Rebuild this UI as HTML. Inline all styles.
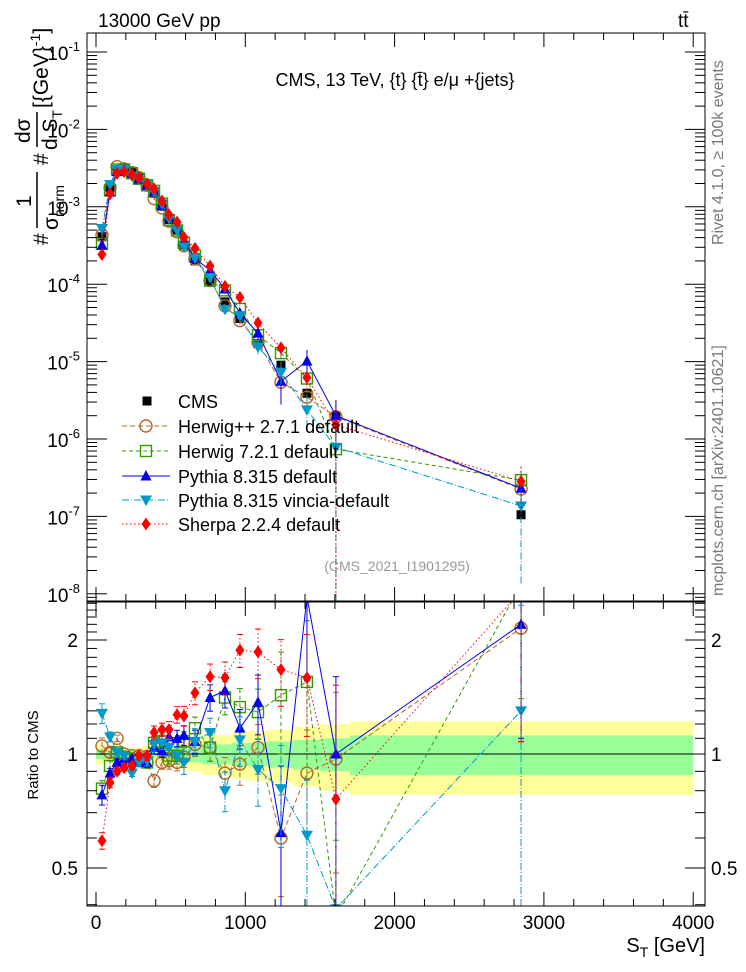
<!DOCTYPE html>
<html><head><meta charset="utf-8"><style>
html,body{margin:0;padding:0;background:#fff;width:746px;height:972px;overflow:hidden;}
svg{display:block;font-family:"Liberation Sans",sans-serif;}
</style></head><body>
<svg id="c" width="746" height="972" viewBox="0 0 746 972" xmlns="http://www.w3.org/2000/svg">
<defs>
<clipPath id="cm"><rect x="87" y="33" width="618" height="568"/></clipPath>
<clipPath id="cr"><rect x="87" y="602" width="618" height="304"/></clipPath>
</defs>
<text x="98" y="27" font-size="19">13000 GeV pp</text>
<text x="678" y="27" font-size="19">tt̄</text>
<text x="395" y="86" font-size="18" text-anchor="middle">CMS, 13 TeV, {t} {t̄} e/μ +{jets}</text>
<text x="397" y="571" font-size="14" fill="#999" text-anchor="middle">(CMS_2021_I1901295)</text>
<text transform="translate(723,245) rotate(-90)" font-size="16" fill="#777">Rivet 4.1.0, ≥ 100k events</text>
<text transform="translate(723,596) rotate(-90)" font-size="16" fill="#777">mcplots.cern.ch [arXiv:2401.10621]</text>
<g transform="rotate(-90)" font-size="21">
<text x="-245" y="48">#</text>
<text x="-207" y="31">1</text>
<line x1="-228" y1="37" x2="-172" y2="37" stroke="#000" stroke-width="1.5"/>
<text x="-230" y="58">σ<tspan font-size="14" dy="6">norm</tspan></text>
<text x="-165" y="48">#</text>
<text x="-143" y="30">dσ</text>
<line x1="-147" y1="37" x2="-112" y2="37" stroke="#000" stroke-width="1.5"/>
<text x="-150" y="57">d S<tspan font-size="14" dy="5">T</tspan></text>
<text x="-108" y="48">[{GeV}<tspan font-size="14" dy="-8">-1</tspan><tspan dy="8">]</tspan></text>
</g>
<text transform="translate(38,755) rotate(-90)" font-size="15" text-anchor="middle">Ratio to CMS</text>
<text x="705" y="952" font-size="20" text-anchor="end">S<tspan font-size="14" dy="5">T</tspan><tspan dy="-5"> [GeV]</tspan></text>
<g id="main" clip-path="url(#cm)"></g>
<g id="ratio" clip-path="url(#cr)"></g>
<g id="axes"></g>
<g id="legend"></g>
</svg>
<script>
const xs=[40,94,141,188,241,288,342,389,442,489,543,589,663,764,864,964,1085,1239,1413,1607,2847];
const cms=[4.1e-4,1.75e-3,3.0e-3,3.1e-3,2.8e-3,2.4e-3,2.0e-3,1.5e-3,1.02e-3,6.8e-4,5e-4,3.2e-4,2.0e-4,1.07e-4,5.9e-5,3.6e-5,1.7e-5,9e-6,3.9e-6,2.0e-6,1.05e-7];
const rHerwigpp=[1.05,1.01,1.10,1.0,0.99,0.99,0.95,0.85,0.95,0.96,0.95,0.98,1.06,1.04,0.89,0.94,1.04,0.6,0.89,0.97,2.15];
const rHerwig7=[0.81,0.93,1.01,0.98,0.97,0.96,0.95,1.07,1.08,0.99,0.99,1.08,1.17,1.04,1.41,1.33,1.29,1.43,1.55,0.37,2.8];
const rPythia=[0.78,0.89,0.95,0.97,0.97,0.95,0.95,1.04,1.02,1.11,1.10,1.12,1.08,1.41,1.47,1.17,1.37,0.62,2.6,1.0,2.2];
const rVincia=[1.28,1.11,1.01,0.99,0.89,0.95,0.96,1.06,1.07,1.04,0.99,0.95,1.08,1.14,0.80,1.09,0.91,0.81,0.61,0.39,1.3];
const rSherpa=[0.59,0.84,0.90,0.92,0.93,0.99,0.99,1.14,1.16,1.16,1.27,1.26,1.45,1.6,1.59,1.88,1.86,1.67,1.59,0.76,2.7];
const eHerwigpp=[0.05,0.03,0.02,0.02,0.02,0.02,0.03,0.04,0.04,0.05,0.05,0.06,0.07,0.08,0.1,0.12,0.15,0.3,0.3,0.5,0.5];
const eHerwig7=[0.05,0.03,0.02,0.02,0.02,0.02,0.03,0.04,0.04,0.05,0.05,0.06,0.07,0.08,0.1,0.12,0.15,0.3,0.45,0.6,0.5];
const ePythia=[0.06,0.03,0.02,0.02,0.02,0.02,0.03,0.04,0.04,0.05,0.05,0.06,0.07,0.08,0.1,0.12,0.18,0.5,0.4,0.6,0.5];
const eVincia=[0.06,0.03,0.02,0.02,0.02,0.02,0.03,0.04,0.04,0.05,0.05,0.07,0.08,0.09,0.12,0.15,0.2,0.3,0.4,1.0,0.9];
const eSherpa=[0.05,0.03,0.02,0.02,0.02,0.02,0.03,0.04,0.04,0.05,0.05,0.06,0.07,0.08,0.1,0.1,0.15,0.2,0.3,1.0,0.6];
const bandEdges=[0,70,115,165,215,265,315,365,415,465,515,565,615,710,810,910,1010,1150,1320,1500,1700,4000];
const statErr=[0.03,0.02,0.02,0.02,0.02,0.02,0.02,0.02,0.03,0.03,0.04,0.05,0.05,0.06,0.06,0.07,0.07,0.08,0.09,0.1,0.12];
const totErr=[0.06,0.04,0.04,0.04,0.04,0.04,0.05,0.05,0.06,0.07,0.08,0.09,0.1,0.12,0.12,0.14,0.15,0.16,0.18,0.2,0.22];
const xTicks=[0,1000,2000,3000,4000];
const yMainTicks=[-1,-2,-3,-4,-5,-6,-7,-8];
const yRatioTicks=[0.5,1,2];

const NS="http://www.w3.org/2000/svg";
const X=v=>96+v*0.1493;
const YM=v=>52-( Math.log10(v)+1)*77.4;
const YR=r=>754-Math.log10(r)*378.7;
const cl=(y,a,b)=>Math.max(a,Math.min(b,y));
function mk(p,tag,at){const e=document.createElementNS(NS,tag);for(const k in at)e.setAttribute(k,at[k]);p.appendChild(e);return e;}
const gm=document.getElementById('main'),gr=document.getElementById('ratio'),ga=document.getElementById('axes'),gl=document.getElementById('legend');

for(let i=0;i<statErr.length;i++){
  const x0=X(bandEdges[i]),x1=X(bandEdges[i+1]);
  const y=mk(gr,'rect',{x:x0,y:YR(1+totErr[i]),width:x1-x0,height:YR(1-totErr[i])-YR(1+totErr[i]),fill:'#ffff99'});
  
  
}
for(let i=0;i<statErr.length;i++){
  const x0=X(bandEdges[i]),x1=X(bandEdges[i+1]);
  const g=mk(gr,'rect',{x:x0,y:YR(1+statErr[i]),width:x1-x0,height:YR(1-statErr[i])-YR(1+statErr[i]),fill:'#99ff99'});
  
  
}
mk(gr,'line',{x1:87,x2:705,y1:YR(1),y2:YR(1),stroke:'#000','stroke-width':1});

function marker(p,type,cx,cy,col,s){
  s=s||1;let e;
  if(type==='sq') e=mk(p,'rect',{x:cx-4.5*s,y:cy-4.5*s,width:9*s,height:9*s,fill:'#000'});
  else if(type==='circ') e=mk(p,'circle',{cx:cx,cy:cy,r:6*s,fill:'none',stroke:col,'stroke-width':1.4});
  else if(type==='osq') e=mk(p,'rect',{x:cx-5.5*s,y:cy-5.5*s,width:11*s,height:11*s,fill:'none',stroke:col,'stroke-width':1.4});
  else if(type==='tri') e=mk(p,'polygon',{points:`${cx},${cy-6*s} ${cx-5.5*s},${cy+4.5*s} ${cx+5.5*s},${cy+4.5*s}`,fill:col});
  else if(type==='itri') e=mk(p,'polygon',{points:`${cx},${cy+6*s} ${cx-6*s},${cy-4.5*s} ${cx+6*s},${cy-4.5*s}`,fill:col});
  else e=mk(p,'polygon',{points:`${cx},${cy-6.5*s} ${cx-4.5*s},${cy} ${cx},${cy+6.5*s} ${cx+4.5*s},${cy}`,fill:col});
  return e;
}
const series=[
 {key:'herwigpp',name:'Herwig++ 2.7.1 default',r:rHerwigpp,e:eHerwigpp,col:'#b5652a',dash:'5,3',m:'circ'},
 {key:'herwig7',name:'Herwig 7.2.1 default',r:rHerwig7,e:eHerwig7,col:'#339900',dash:'4,3',m:'osq'},
 {key:'pythia',name:'Pythia 8.315 default',r:rPythia,e:ePythia,col:'#0000ee',dash:'',m:'tri'},
 {key:'vincia',name:'Pythia 8.315 vincia-default',r:rVincia,e:eVincia,col:'#0099cc',dash:'7,2,1,2',m:'itri'},
 {key:'sherpa',name:'Sherpa 2.2.4 default',r:rSherpa,e:eSherpa,col:'#ff0000',dash:'1.5,2.5',m:'dia'}
];
cms.forEach((v,i)=>{
  const e=marker(gm,'sq',X(xs[i]),YM(v));
  
  
});
series.forEach(s=>{
  const vals=cms.map((c,i)=>c*s.r[i]);
  const pm=vals.map((v,i)=>X(xs[i])+','+YM(v)).join(' ');
  const lm=mk(gm,'polyline',{points:pm,fill:'none',stroke:s.col,'stroke-width':1,'stroke-dasharray':s.dash});
  
  
  const pr=s.r.map((v,i)=>X(xs[i])+','+YR(v)).join(' ');
  const lr=mk(gr,'polyline',{points:pr,fill:'none',stroke:s.col,'stroke-width':1,'stroke-dasharray':s.dash});
  
  
  vals.forEach((v,i)=>{
    const cx=X(xs[i]);
    const lo=Math.max(v*(1-s.e[i]),1e-12),hi=v*(1+s.e[i]);
    mk(gm,'line',{x1:cx,x2:cx,y1:cl(YM(lo),33,601),y2:cl(YM(hi),33,601),stroke:s.col,'stroke-width':1,'stroke-dasharray':s.dash});
    const e=marker(gm,s.m,cx,YM(v),s.col);
    
    
    const r=s.r[i],rlo=Math.max(r*(1-s.e[i]),1e-3),rhi=r*(1+s.e[i]);
    const y1=cl(YR(rlo),602,906),y2=cl(YR(rhi),602,906);
    mk(gr,'line',{x1:cx,x2:cx,y1:y1,y2:y2,stroke:s.col,'stroke-width':1,'stroke-dasharray':s.dash});
    mk(gr,'line',{x1:cx-3,x2:cx+3,y1:y1,y2:y1,stroke:s.col,'stroke-width':1});
    mk(gr,'line',{x1:cx-3,x2:cx+3,y1:y2,y2:y2,stroke:s.col,'stroke-width':1});
    const er=marker(gr,s.m,cx,YR(r),s.col);
    
    
  });
});
[[33,601],[602,906]].forEach((f,k)=>{
  const fr=mk(ga,'rect',{x:87,y:f[0],width:618,height:f[1]-f[0],fill:'none',stroke:'#000','stroke-width':1});
  
  
  for(let v=0;v<=4000;v+=200){
    const x=X(v),L=v%1000===0?14:7;
    mk(ga,'line',{x1:x,x2:x,y1:f[1],y2:f[1]-L,stroke:'#000'});
    mk(ga,'line',{x1:x,x2:x,y1:f[0],y2:f[0]+L,stroke:'#000'});
  }
});
xTicks.forEach(v=>{
  const t=mk(ga,'text',{x:X(v),y:929,'font-size':19,'text-anchor':'middle'});t.textContent=v;
  
  
});
for(let d=-9;d<0;d++){for(let m=1;m<10;m++){
  const v=m*Math.pow(10,d),y=YM(v);if(y<33||y>601)continue;
  const L=m===1?20:10;
  mk(ga,'line',{x1:87,x2:87+L,y1:y,y2:y,stroke:'#000'});
  mk(ga,'line',{x1:705,x2:705-L,y1:y,y2:y,stroke:'#000'});
}}
yMainTicks.forEach(d=>{
  const t=mk(ga,'text',{x:80,y:YM(Math.pow(10,d))+8,'font-size':19,'text-anchor':'end'});
  t.innerHTML='10<tspan font-size="13" dy="-9">'+d+'</tspan>';
  
  
});
for(let r=0.4;r<=2.55;r+=0.1){
  const y=YR(r);if(y<602||y>906)continue;
  const maj=yRatioTicks.some(q=>Math.abs(q-r)<1e-6);
  const L=maj?20:10;
  mk(ga,'line',{x1:87,x2:87+L,y1:y,y2:y,stroke:'#000'});
  mk(ga,'line',{x1:705,x2:705-L,y1:y,y2:y,stroke:'#000'});
}
yRatioTicks.forEach(r=>{
  const t=mk(ga,'text',{x:78,y:YR(r)+7,'font-size':19,'text-anchor':'end'});t.textContent=r;
  
  
  const t2=mk(ga,'text',{x:711,y:YR(r)+7,'font-size':19});t2.textContent=r;
  
  
});
const ly=[401,426,451,476,500,524];
const le0=mk(gl,'g',{});


marker(le0,'sq',147,ly[0]);
const lt0=mk(le0,'text',{x:178,y:ly[0]+7,'font-size':18});lt0.textContent='CMS';
series.forEach((s,i)=>{
  const g=mk(gl,'g',{});
  
  
  const y=ly[i+1];
  mk(g,'line',{x1:122,x2:170,y1:y,y2:y,stroke:s.col,'stroke-width':1,'stroke-dasharray':s.dash});
  marker(g,s.m,146,y,s.col);
  const t=mk(g,'text',{x:178,y:y+7,'font-size':18});t.textContent=s.name;
});
</script>
</body></html>
